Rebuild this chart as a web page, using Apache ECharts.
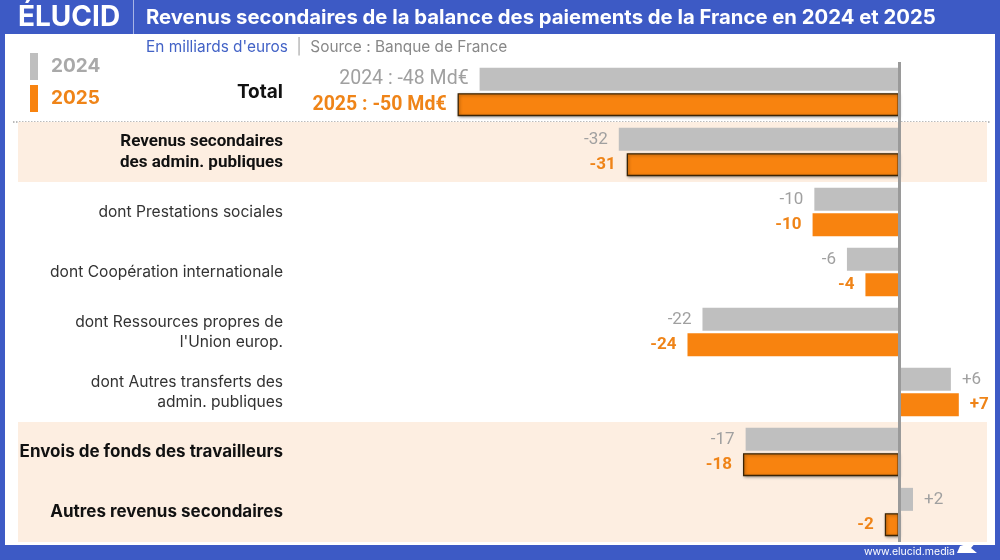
<!DOCTYPE html>
<html><head><meta charset="utf-8">
<script src="https://cdn.jsdelivr.net/npm/echarts@6/dist/echarts.min.js"></script>
<style>html,body{margin:0;padding:0;background:#fff}#c{width:1000px;height:560px}</style>
</head><body><div id="c"></div>
<script>
const categories = [
  'Total',
  'Revenus secondaires\ndes admin. publiques',
  'dont Prestations sociales',
  'dont Coopération internationale',
  "dont Ressources propres de\nl'Union europ.",
  'dont Autres transferts des\nadmin. publiques',
  'Envois de fonds des travailleurs',
  'Autres revenus secondaires'
];
const mainRows = [true, true, false, false, false, false, true, true];
const seriesNames = ['2024', '2025'];
const values2024 = [-47.6, -31.8, -9.6, -5.9, -22.3, 5.9, -17.4, 1.6];
const values2025 = [-50.1, -30.9, -9.8, -3.8, -24.0, 6.8, -17.7, -1.6];
const titleText = 'Revenus secondaires de la balance des paiements de la France en 2024 et 2025';
const unitText = "En milliards d'euros";
const sourceText = 'Source : Banque de France';
const brandText = 'ÉLUCID';
const footerText = 'www.elucid.media';

const BLUE = '#3d5ac5';
const GREY = '#bfbfbf';
const ORANGE = '#f8830f';
const GREY_TXT = '#a0a0a0';
const ORANGE_TXT = '#ef8418';
const PEACH = '#fdeee1';

function fmt(v) { const r = Math.round(v); return (r > 0 ? '+' : '') + r; }

function makeData(vals, isOrange) {
  return vals.map((v, i) => {
    const d = { value: v, label: { position: v < 0 ? 'left' : 'right' } };
    if (i === 0) d.label.fontSize = 19.5;
    if (isOrange && mainRows[i]) {
      d.itemStyle = { borderColor: '#3a2406', borderWidth: 1.3,
        shadowBlur: 3, shadowColor: 'rgba(0,0,0,0.35)', shadowOffsetX: 1, shadowOffsetY: 1 };
    }
    return d;
  });
}

const bandColors = categories.map((c, i) => (i === 1 || i === 6 || i === 7) ? PEACH : 'rgba(255,255,255,0)');

const chart = echarts.init(document.getElementById('c'), null, { renderer: 'canvas' });
chart.setOption({
  animation: false,
  backgroundColor: '#ffffff',
  grid: { left: 18, right: 13, top: 62, bottom: 18, containLabel: false },
  legend: {
    orient: 'vertical', left: 30, top: 53, padding: 0, itemWidth: 8, itemHeight: 27, itemGap: 5,
    icon: 'rect', selectedMode: false,
    textStyle: { fontFamily: 'Inter', fontWeight: 'bold', fontSize: 19, padding: [2, 0, 0, 8] },
    data: [
      { name: seriesNames[0], textStyle: { color: '#a9a9a9' } },
      { name: seriesNames[1], textStyle: { color: ORANGE_TXT } }
    ]
  },
  xAxis: { type: 'value', min: -100, max: 10, show: false },
  yAxis: {
    type: 'category', inverse: true, data: categories,
    axisLine: { show: false }, axisTick: { show: false },
    splitLine: { show: false },
    splitArea: { show: true, areaStyle: { color: bandColors } },
    axisLabel: {
      margin: -265,
      formatter: function (val, idx) {
        const style = idx === 0 ? 'tot' : (idx === 1 ? 'cond' : (mainRows[idx] ? 'main' : 'sub'));
        return val.split('\n').map(l => '{' + style + '|' + l + '}').join('\n');
      },
      rich: {
        tot: { fontFamily: 'Inter', fontWeight: 'bold', fontSize: 19, color: '#111', lineHeight: 22 },
        main: { fontFamily: 'Inter', fontWeight: 'bold', fontSize: 17, color: '#111', lineHeight: 21 },
        cond: { fontFamily: 'Roboto', fontWeight: 'bold', fontSize: 17, color: '#111', lineHeight: 21 },
        sub: { fontFamily: 'Inter', fontSize: 15.6, color: '#333', lineHeight: 20 }
      }
    }
  },
  series: [
    {
      name: seriesNames[0], type: 'bar', barWidth: 23, barGap: '10%',
      itemStyle: { color: GREY },
      label: {
        show: true, distance: 11, color: GREY_TXT, fontFamily: 'Roboto', fontSize: 17,
        formatter: p => p.dataIndex === 0 ? (p.seriesName + ' : ' + fmt(p.value) + ' Md€') : fmt(p.value)
      },
      data: makeData(values2024, false),
      markLine: {
        silent: true, symbol: 'none', label: { show: false },
        lineStyle: { color: '#9a9a9a', width: 3, type: 'solid' },
        data: [{ xAxis: 0 }], z: 10
      }
    },
    {
      name: seriesNames[1], type: 'bar', barWidth: 23, barGap: '10%',
      itemStyle: { color: ORANGE },
      label: {
        show: true, distance: 11, color: ORANGE_TXT, fontFamily: 'Roboto', fontWeight: 'bold', fontSize: 17,
        formatter: p => p.dataIndex === 0 ? (p.seriesName + ' : ' + fmt(p.value) + ' Md€') : fmt(p.value)
      },
      data: makeData(values2025, true)
    }
  ],
  graphic: [
    { type: 'rect', shape: { x: 0, y: 0, width: 1000, height: 34 }, style: { fill: BLUE }, silent: true },
    { type: 'rect', shape: { x: 0, y: 0, width: 5, height: 560 }, style: { fill: BLUE }, silent: true },
    { type: 'rect', shape: { x: 995, y: 0, width: 5, height: 560 }, style: { fill: BLUE }, silent: true },
    { type: 'rect', shape: { x: 0, y: 545, width: 1000, height: 15 }, style: { fill: BLUE }, silent: true },
    { type: 'line', shape: { x1: 133.5, y1: 0, x2: 133.5, y2: 34 }, style: { stroke: 'rgba(255,255,255,0.55)', lineWidth: 1 }, silent: true },
    { type: 'text', x: 18, y: 18, style: { text: brandText, fill: '#fff', font: 'bold 28px Inter', textVerticalAlign: 'middle' }, silent: true },
    { type: 'text', x: 146, y: 18, style: { text: titleText, fill: '#fff', font: 'bold 20.3px Inter', textVerticalAlign: 'middle' }, silent: true },
    { type: 'text', x: 146, y: 47, style: {
        text: '{a|' + unitText + '}{b|  |  }{c|' + sourceText + '}', textVerticalAlign: 'middle',
        rich: {
          a: { fill: '#4262c6', font: '15.4px Inter' },
          b: { fill: '#aaa', font: '15.4px Inter' },
          c: { fill: '#888', font: '15.4px Inter' }
        } }, silent: true },
    { type: 'line', shape: { x1: 13, y1: 122, x2: 990, y2: 122 }, style: { stroke: '#a5a5a5', lineWidth: 1.5, lineDash: [1.5, 1.5] }, silent: true },
    { type: 'text', x: 955, y: 552, style: { text: footerText, fill: '#fff', font: '10.5px Inter', textAlign: 'right', textVerticalAlign: 'middle' }, silent: true },
    { type: 'polygon', shape: { points: [[957, 553], [960, 546], [977, 541], [971, 548], [977, 553]] }, style: { fill: '#fff' }, silent: true }
  ]
});
</script>
</body></html>
